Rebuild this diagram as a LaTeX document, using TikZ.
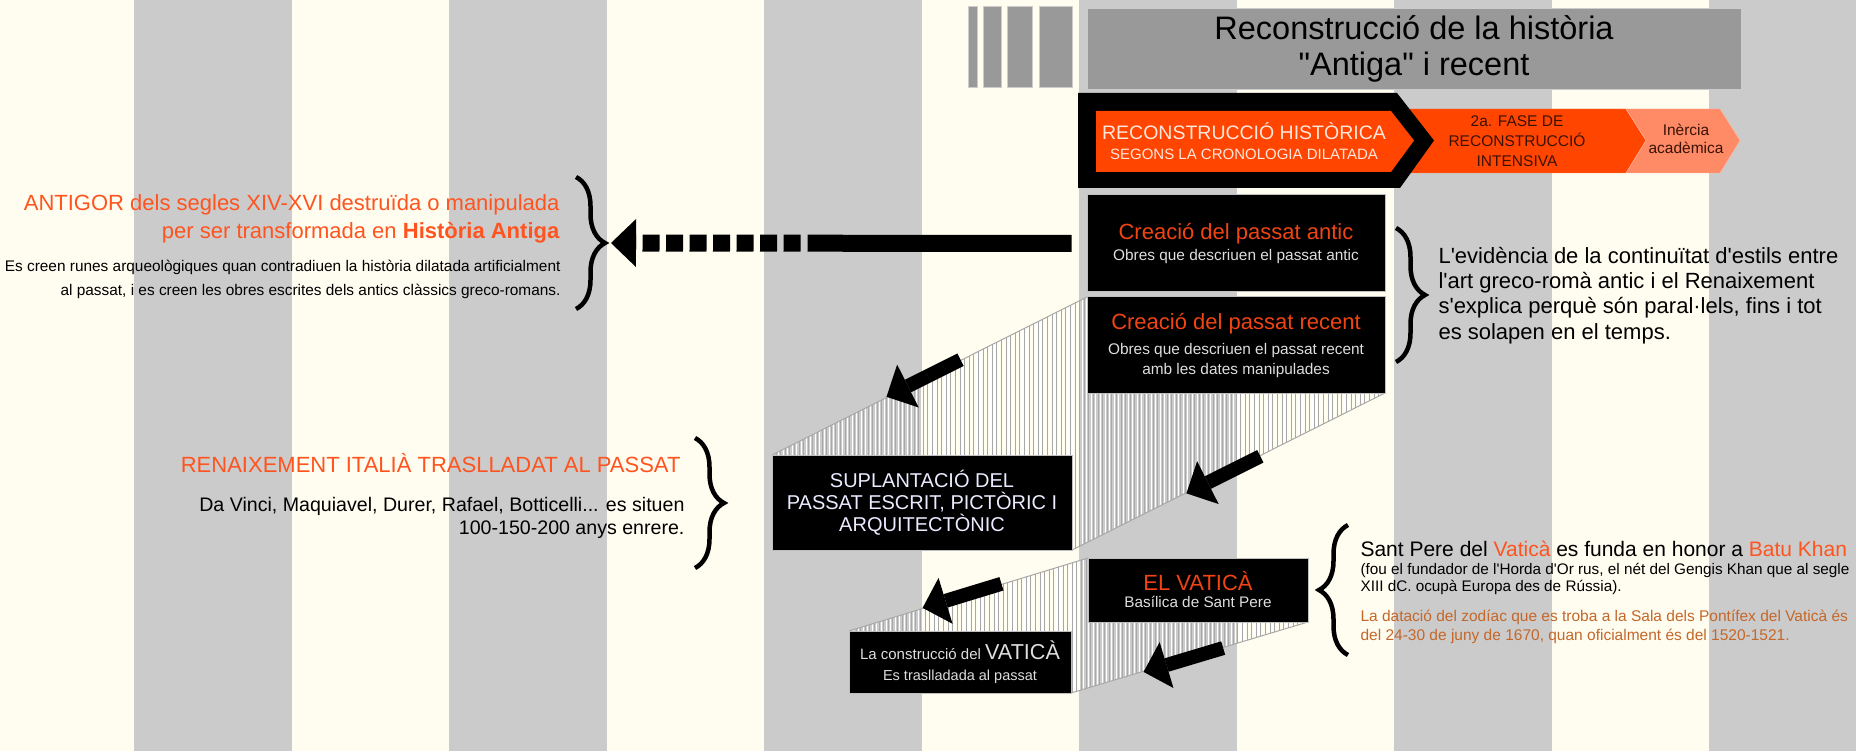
\documentclass[tikz,border=0pt]{standalone}
\usepackage{fontspec}
\newfontfamily\arial{Liberation Sans}
\usetikzlibrary{arrows.meta,calc,decorations.pathreplacing}
\definecolor{cream}{HTML}{FFFDF0}
\definecolor{stripe}{HTML}{CBCBCB}
\definecolor{titlegray}{HTML}{999999}
\definecolor{hatchgray}{HTML}{A8A8A8}
\definecolor{flame}{HTML}{FF4500}
\definecolor{salmon}{HTML}{FF8A66}
\definecolor{hot}{HTML}{FF5420}
\definecolor{boxred}{HTML}{F04412}
\definecolor{ochre}{HTML}{C4672A}
\definecolor{pale}{HTML}{DEDEDE}
\definecolor{blush}{HTML}{FFE6DC}
\definecolor{umber}{HTML}{3A1206}
\newcommand\fsz[2]{\arial\fontsize{#1}{#2}\selectfont}

\begin{document}
\begin{tikzpicture}[x=1pt,y=-1pt,
  blackbox/.style={fill=black,draw=gray!50,line width=1pt,inner sep=0pt,align=center,text=pale},
  hatchedge/.style={draw=hatchgray,line width=1pt},
  fatarrow/.style={line width=14pt,-{Triangle[length=24pt,width=48pt,line width=0pt]}},
  curly/.style={decorate,decoration={brace,amplitude=#1},line width=4.5pt}]
 \useasboundingbox (0,0) rectangle (1856,751);
 \fill[cream] (0,0) rectangle (1856,751);
 \foreach \k in {0,...,5}
  \fill[stripe] (134+315*\k,0) rectangle ++(157.5,751);

 \coordinate (recent-nw) at (1087,297);
 \coordinate (recent-se) at (1385,393);
 \coordinate (suplant-nw) at (772,455);
 \coordinate (suplant-se) at (1072,550);
 \coordinate (vatica-nw) at (1088,558);
 \coordinate (vatica-se) at (1308,622);
 \coordinate (construccio-nw) at (849,631);
 \coordinate (construccio-se) at (1071,693);

 \begin{scope}
  \clip (recent-nw) -- (recent-se |- recent-nw) -- (recent-se) -- (suplant-se)
    -- (suplant-nw |- suplant-se) -- (suplant-nw) -- cycle;
  \foreach \x in {760,764.6,...,1400} {
   \draw[white,line width=1pt] (\x,280) -- (\x,560);
   \draw[hatchgray,line width=1pt] (\x+2.3,280) -- (\x+2.3,560);
  }
 \end{scope}
 \begin{scope}
  \clip (vatica-nw) -- (vatica-se |- vatica-nw) -- (vatica-se) -- (construccio-se)
    -- (construccio-nw |- construccio-se) -- (construccio-nw) -- cycle;
  \foreach \x in {840,844.6,...,1320} {
   \draw[white,line width=1pt] (\x,550) -- (\x,700);
   \draw[hatchgray,line width=1pt] (\x+2.3,550) -- (\x+2.3,700);
  }
 \end{scope}
 \draw[hatchedge] (recent-nw) -- (suplant-nw);
 \draw[hatchedge] (recent-se) -- (suplant-se);
 \draw[hatchedge] (vatica-nw) -- (construccio-nw);
 \draw[hatchedge] (vatica-se) -- (construccio-se);

 \foreach \a/\b in {968/977,983/1001,1007/1032,1039/1072}
  \filldraw[fill=titlegray,draw=gray!40] (\a,6) rectangle (\b,87);
 \node[fill=titlegray,draw=gray!40,minimum width=654pt,minimum height=81pt,align=center,
   font=\fsz{32.5}{36}] (title) at (1414,49) {Reconstrucció de la història\\"Antiga" i recent};

 \filldraw[fill=flame,draw=salmon] (1400,109) -- (1626,109) -- (1646,140.5) -- (1626,173) -- (1400,173) -- cycle;
 \filldraw[fill=salmon,draw=salmon!60] (1626,109) -- (1720,109) -- (1740,140.5) -- (1720,173) -- (1626,173) -- (1646,140.5) -- cycle;
 \fill[black] (1078,93) -- (1397,93) -- (1434,140.5) -- (1400,188) -- (1078,188) -- cycle;
 \fill[flame] (1096,111) -- (1391,111) -- (1414,140.5) -- (1391,172) -- (1096,172) -- cycle;
 \node[align=center,text=blush,font=\fsz{15}{20}] (phase1) at (1244,141)
   {{\fsz{19.5}{20}RECONSTRUCCIÓ HISTÒRICA}\\SEGONS LA CRONOLOGIA DILATADA};
 \node[align=center,text=umber,font=\fsz{15.5}{20}] (phase2) at (1517,141.5)
   {2a. FASE DE\\RECONSTRUCCIÓ\\INTENSIVA};
 \node[align=center,text=umber,font=\fsz{15.5}{18}] (phase3) at (1686,138.5) {Inèrcia\\acadèmica};

 \node[blackbox,minimum width=298pt,minimum height=97pt,font=\fsz{15.4}{20}] (antic) at (1236,243.5)
   {\textcolor{boxred}{\fsz{22}{22}Creació del passat antic}\\[1pt]Obres que descriuen el passat antic};
 \node[blackbox,minimum width=298pt,minimum height=96pt,font=\fsz{15.4}{20}] (recent)
   at ($(recent-nw)!0.5!(recent-se)$)
   {\textcolor{boxred}{\fsz{22}{22}Creació del passat recent}\\[5pt]Obres que descriuen el passat recent\\amb les dates manipulades};
 \node[blackbox,minimum width=300pt,minimum height=95pt,text=white!92!blue,font=\fsz{20}{22}] (suplant)
   at ($(suplant-nw)!0.5!(suplant-se)$)
   {SUPLANTACIÓ DEL\\PASSAT ESCRIT, PICTÒRIC I\\ARQUITECTÒNIC};
 \node[blackbox,minimum width=220pt,minimum height=64pt,font=\fsz{15.3}{17}] (vatica)
   at ($(vatica-nw)!0.5!(vatica-se)$)
   {\textcolor{boxred}{\fsz{22}{22}EL VATICÀ}\\Basílica de Sant Pere};
 \node[blackbox,minimum width=222pt,minimum height=62pt,font=\fsz{14.5}{21}] (construccio)
   at ($(construccio-nw)!0.5!(construccio-se)$)
   {{\fsz{15}{21}La construcció del }{\fsz{21.6}{21}VATICÀ}\\Es traslladada al passat};

 \draw[fatarrow] ($(recent.north west)!0.40!(suplant.north west)$) -- ($(recent.north west)!0.635!(suplant.north west)$);
 \draw[fatarrow] ($(recent.south east)!0.40!(suplant.south east)$) -- ($(recent.south east)!0.636!(suplant.south east)$);
 \draw[fatarrow] ($(vatica.north west)!0.36!(construccio.north west)$) -- ($(vatica.north west)!0.69!(construccio.north west)$);
 \draw[fatarrow] ($(vatica.south east)!0.36!(construccio.south east)$) -- ($(vatica.south east)!0.696!(construccio.south east)$);

 \node[anchor=east,align=right,text=hot,font=\fsz{22}{28}] (antigor) at (563,218.5)
   {ANTIGOR dels segles XIV-XVI destruïda o manipulada\\per ser transformada en \textbf{Història Antiga}};
 \node[anchor=east,align=right,font=\fsz{15.4}{23.5}] (runes) at (564,279.5)
   {Es creen runes arqueològiques quan contradiuen la història dilatada artificialment\\al passat, i es creen les obres escrites dels antics clàssics greco-romans.};
 \draw[curly=29pt] (576,177) -- (576,309);
 \coordinate (antigortip) at (605,243);
 \draw[line width=17pt,dash pattern=on 264pt off 7pt on 17pt off 6.5pt on 17pt off 6.5pt on 17pt off 6.5pt
   on 17pt off 6.5pt on 17pt off 6.5pt on 17pt off 6.5pt on 17pt off 6.5pt,
   -{Triangle[length=25pt,width=48pt,line width=0pt]}] ([xshift=-15pt]antic.west) -- ([xshift=6pt]antigortip);

 \draw[curly=29pt] (1396,228) -- (1396,362);
 \node[anchor=west,align=left,font=\fsz{22}{25.2}] (paral) at (1435,295.5)
   {L'evidència de la continuïtat d'estils entre\\l'art greco-romà antic i el Renaixement\\s'explica perquè són paral·lels, fins i tot\\es solapen en el temps.};

 \node[anchor=base east,text=hot,font=\fsz{22}{22}] (renaix) at (684,472) {RENAIXEMENT ITALIÀ TRASLLADAT AL PASSAT};
 \node[anchor=east,align=right,font=\fsz{19.6}{23}] (vinci) at (688,518)
   {Da Vinci, Maquiavel, Durer, Rafael, Botticelli... es situen\\100-150-200 anys enrere.};
 \draw[curly=29pt] (695,438) -- (695,568);

 \draw[curly=29pt] (1348,655) -- (1348,525);
 \node[anchor=base west,font=\fsz{21}{21}] (batu) at (1357,556)
   {Sant Pere del \textcolor{hot}{Vaticà} es funda en honor a \textcolor{hot}{Batu Khan}};
 \node[anchor=west,align=left,font=\fsz{15.3}{16.5}] (horda) at (1357,579)
   {(fou el fundador de l'Horda d'Or rus, el nét del Gengis Khan que al segle\\XIII dC. ocupà Europa des de Rússia).};
 \node[anchor=west,align=left,text=ochre,font=\fsz{15.5}{19.5}] (zodiac) at (1357,627)
   {La datació del zodíac que es troba a la Sala dels Pontífex del Vaticà és\\del 24-30 de juny de 1670, quan oficialment és del 1520-1521.};
\end{tikzpicture}
\end{document}
